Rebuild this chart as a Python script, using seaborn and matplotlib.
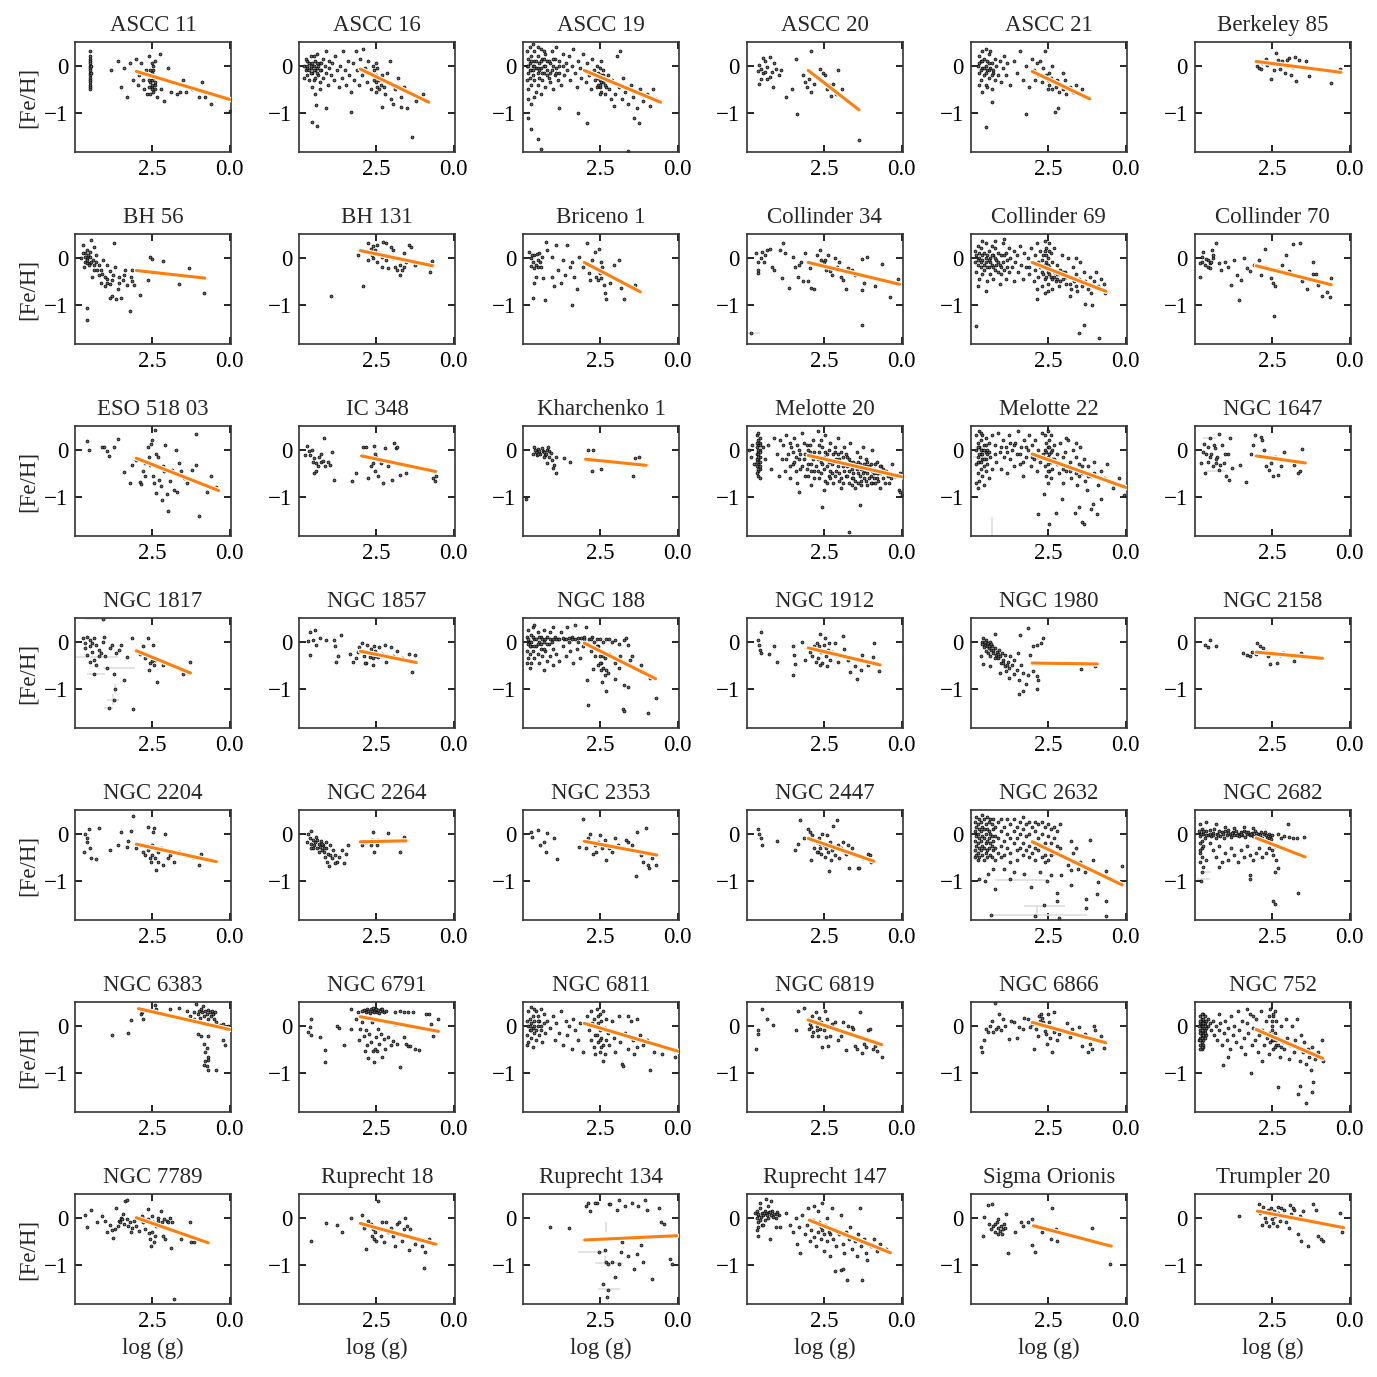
import matplotlib
matplotlib.use("Agg")
import matplotlib.pyplot as plt
import matplotlib.patheffects as pe
import seaborn as sns
import pandas as pd

# cluster names in panel order
clusters = ["ASCC 11", "ASCC 16", "ASCC 19", "ASCC 20", "ASCC 21", "Berkeley 85",
            "BH 56", "BH 131", "Briceno 1", "Collinder 34", "Collinder 69", "Collinder 70",
            "ESO 518 03", "IC 348", "Kharchenko 1", "Melotte 20", "Melotte 22", "NGC 1647",
            "NGC 1817", "NGC 1857", "NGC 188", "NGC 1912", "NGC 1980", "NGC 2158",
            "NGC 2204", "NGC 2264", "NGC 2353", "NGC 2447", "NGC 2632", "NGC 2682",
            "NGC 6383", "NGC 6791", "NGC 6811", "NGC 6819", "NGC 6866", "NGC 752",
            "NGC 7789", "Ruprecht 18", "Ruprecht 134", "Ruprecht 147", "Sigma Orionis", "Trumpler 20"]

# (log g, [Fe/H])
ascc_11 = [(4.5,0.3),(4.5,0.2),(4.5,0.15),(4.5,0.1),(4.5,0.05),(4.5,0.0),(4.5,-0.05),(4.5,-0.1),(4.5,-0.15),
           (4.5,-0.2),(4.5,-0.25),(4.5,-0.3),(4.5,-0.35),(4.5,-0.4),(4.5,-0.45),(4.5,-0.5),(4.45,0.0),(4.45,-0.15),
           (3.8,-0.1),(3.6,0.1),(3.5,-0.45),(3.4,-0.05),(3.3,-0.65),(3.2,0.05),(3.1,-0.3),(3.0,0.15),(2.95,-0.4),
           (2.9,-0.2),(2.85,0.05),(2.8,-0.3),(2.75,-0.5),(2.7,-0.1),(2.65,-0.6),(2.6,0.2),(2.55,-0.35),(2.5,-0.15),
           (2.5,-0.45),(2.45,-0.55),(2.45,-0.1),(2.4,0.1),(2.4,-0.4),(2.35,-0.65),(2.3,-0.25),(2.25,0.25),(2.2,-0.5),
           (2.1,-0.75),(2.0,-0.05),(1.9,-0.55),(1.8,-0.35),(1.7,-0.6),(1.6,-0.55),(1.5,-0.3),(1.4,-0.55),(1.2,-0.5),
           (1.0,-0.65),(0.9,-0.35),(0.8,-0.65),(0.6,-0.8),(0.0,-0.95),(2.55,-0.2),(2.5,-0.3),(2.45,-0.25),(2.5,-0.5),
           (2.55,-0.6),(2.4,-0.35),(2.6,-0.45),(2.45,0.0),(2.5,0.05),(2.55,-0.1),(2.5,-0.4),(2.6,-0.3),(2.4,-0.5)]
ascc_16 = [(4.8,0.0),(4.75,-0.1),(4.7,0.1),(4.7,-0.2),(4.65,0.05),(4.6,-0.05),(4.6,0.2),(4.55,-0.15),(4.5,0.0),
           (4.5,-0.3),(4.45,0.1),(4.45,-0.1),(4.4,0.25),(4.4,-0.05),(4.35,-0.2),(4.3,0.05),(4.3,-0.35),(4.25,-0.1),
           (4.2,0.15),(4.2,-0.25),(4.15,0.0),(4.1,-0.15),(4.1,0.3),(4.05,-0.4),(4.0,-0.05),(4.0,0.1),(4.65,-0.3),
           (4.55,-0.45),(4.75,0.15),(4.5,0.2),(4.35,0.0),(4.25,0.05),(4.6,0.0),(4.4,-0.15),(4.7,-0.05),(4.8,-0.25),
           (4.3,-0.5),(4.45,-0.6),(3.95,-0.2),(3.9,0.05),(3.85,-0.3),(3.8,0.2),(3.75,-0.1),(3.7,-0.45),(3.65,0.0),
           (3.6,-0.25),(3.55,0.3),(3.5,-0.1),(3.45,-0.4),(3.4,0.1),(3.35,-0.2),(3.3,-0.55),(3.25,0.05),(3.2,-0.3),
           (3.15,0.3),(3.1,-0.1),(3.05,-0.4),(3.0,0.15),(2.95,-0.2),(2.9,0.35),(2.85,-0.05),(2.8,-0.35),(2.75,0.1),
           (2.7,-0.15),(2.65,-0.5),(2.6,0.0),(2.55,-0.1),(2.5,-0.2),(2.5,-0.35),(2.45,-0.45),(2.45,-0.05),(2.4,-0.3),
           (2.4,-0.5),(2.5,0.05),(2.45,-0.25),(2.35,-0.4),(2.5,-0.55),(2.55,-0.3),(2.3,-0.2),(2.2,-0.6),(2.1,-0.35),
           (2.0,-0.7),(1.9,-0.5),(1.8,-0.25),(1.7,-0.65),(1.6,-0.45),(1.5,-0.9),(1.4,-0.55),(1.2,-0.75),(1.0,-0.6),
           (2.15,-0.15),(2.25,-0.45),(1.95,-0.8),(2.05,0.1),(4.56,-1.19),(4.4,-1.28),(4.43,-0.83),(4.1,-0.9),
           (3.3,-0.98),(1.33,-1.5),(2.3,-0.87),(1.7,-0.87),(4.7,0.0),(4.6,-0.15),(4.5,-0.1),(4.4,0.05),(4.3,-0.1),
           (4.65,-0.1),(4.55,0.05),(4.45,-0.25)]
ascc_19 = [(4.85,0.3),(4.85,0.0),(4.85,-0.3),(4.8,0.15),(4.8,-0.15),(4.8,-0.5),(4.75,0.4),(4.75,0.05),(4.75,-0.25),
           (4.7,0.2),(4.7,-0.1),(4.7,-0.4),(4.65,0.0),(4.65,-0.2),(4.6,0.3),(4.6,0.1),(4.6,-0.3),(4.55,-0.05),
           (4.55,-0.55),(4.5,0.2),(4.5,-0.15),(4.5,-0.4),(4.45,0.05),(4.45,-0.25),(4.4,0.35),(4.4,-0.05),(4.4,-0.6),
           (4.35,0.15),(4.35,-0.3),(4.3,0.0),(4.3,-0.15),(4.25,0.25),(4.25,-0.45),(4.2,-0.1),(4.2,0.1),(4.15,-0.25),
           (4.1,0.05),(4.1,-0.35),(4.05,0.3),(4.05,-0.1),(4.0,0.0),(4.0,-0.5),(3.95,0.15),(3.95,-0.2),(3.9,-0.05),
           (3.9,0.4),(3.85,-0.3),(3.8,0.1),(3.8,-0.15),(3.75,-0.4),(3.7,0.0),(3.7,0.25),(3.65,-0.2),(3.6,0.05),
           (4.8,-0.7),(4.7,-0.8),(4.65,0.45),(4.5,0.4),(4.6,-0.65),(4.3,0.3),(3.55,-0.1),(3.5,0.2),(3.45,-0.3),
           (3.4,0.0),(3.35,0.35),(3.3,-0.15),(3.25,-0.45),(3.2,0.1),(3.15,-0.05),(3.1,-0.25),(3.05,0.25),(3.0,-0.1),
           (2.95,-0.35),(2.9,0.05),(2.85,-0.2),(2.8,-0.5),(2.75,0.15),(2.7,-0.1),(2.65,-0.3),(2.6,0.0),(2.6,-0.45),
           (2.55,-0.15),(2.5,-0.3),(2.5,-0.05),(2.5,-0.45),(2.45,-0.2),(2.45,-0.55),(2.4,-0.35),(2.4,-0.1),
           (2.35,-0.25),(2.35,-0.6),(2.5,-0.6),(2.45,0.1),(2.55,-0.4),(2.3,-0.45),(2.25,-0.2),(2.2,-0.5),(2.15,-0.7),
           (2.1,-0.3),(2.0,-0.6),(1.95,0.2),(1.9,-0.45),(1.8,-0.7),(1.75,-0.25),(1.7,-0.55),(1.6,-0.8),(1.5,-0.4),
           (1.45,-0.65),(1.3,-0.9),(1.2,-0.5),(1.1,-0.75),(1.0,-0.6),(0.9,-0.85),(0.8,-0.5),(0.7,-0.7),(1.85,0.3),
           (2.05,-0.85),(1.4,-1.1),(1.25,-1.2),(4.7,-1.34),(4.5,-1.55),(4.4,-1.75),(3.2,-1.0),(2.9,-1.2),(1.6,-1.8),
           (4.8,-1.1),(3.8,-0.9),(4.8,0.0),(4.75,-0.1),(4.7,0.1),(4.65,-0.1),(4.6,0.0),(4.55,0.1),(4.5,-0.05),
           (4.45,-0.1),(4.4,0.1),(4.35,-0.15),(4.3,0.15),(4.25,0.0),(4.2,-0.2),(4.15,0.1),(4.1,-0.15),(4.0,0.15),
           (3.9,-0.15),(3.8,0.0),(2.5,-0.2),(2.45,-0.35),(2.4,-0.2),(2.55,-0.25),(2.35,-0.4),(2.5,-0.4)]
ascc_20 = [(4.59,0.01),(4.52,-0.06),(4.45,0.16),(4.38,0.09),(4.31,-0.02),(4.24,0.19),(4.17,-0.13),(4.1,0.05),
           (4.03,-0.06),(3.95,-0.2),(3.88,-0.09),(4.52,-0.27),(4.59,-0.38),(4.31,-0.27),(4.12,-0.45),(4.45,-0.16),
           (4.62,-0.11),(4.38,-0.13),(4.24,-0.24),(3.71,-0.66),(3.53,-0.49),(3.39,0.14),(3.35,-1.02),(2.9,0.3),
           (3.18,-0.2),(3.11,-0.34),(3.04,-0.45),(2.97,-0.27),(2.9,-0.56),(2.82,-0.38),(2.61,-0.06),(2.54,-0.16),
           (2.47,-0.2),(2.4,-0.49),(2.33,-0.41),(2.26,-0.63),(2.19,-0.38),(2.12,-0.59),(2.05,-0.09),(1.91,-0.49),
           (1.38,-1.56)]
ascc_21 = [(4.75,0.0),(4.7,0.2),(4.7,-0.15),(4.65,0.1),(4.65,-0.3),(4.6,-0.05),(4.6,0.3),(4.55,0.15),(4.55,-0.2),
           (4.5,0.0),(4.5,-0.4),(4.45,0.1),(4.45,-0.1),(4.4,0.25),(4.4,-0.25),(4.35,-0.05),(4.3,0.05),(4.3,-0.5),
           (4.25,-0.15),(4.2,0.15),(4.2,-0.3),(4.15,0.0),(4.1,-0.2),(4.05,0.1),(4.0,-0.35),(3.95,-0.05),(3.9,0.2),
           (4.6,-0.55),(4.7,-0.4),(4.5,0.35),(4.35,0.3),(4.45,-0.45),(4.25,-0.1),(4.55,-0.05),(4.4,0.05),
           (3.85,-0.2),(3.8,0.05),(3.7,-0.4),(3.6,0.1),(3.5,-0.15),(3.4,0.3),(3.3,-0.3),(3.2,0.0),(3.1,-0.45),
           (3.0,0.15),(2.95,-0.1),(2.9,-0.3),(2.85,0.05),(2.8,-0.2),(2.75,0.1),(2.7,-0.35),(2.65,-0.05),(2.6,0.3),
           (2.55,-0.2),(2.5,-0.3),(2.45,-0.4),(2.4,-0.25),(2.35,-0.5),(2.3,-0.35),(2.25,-0.45),(2.2,-0.3),
           (2.15,-0.55),(2.1,-0.4),(2.0,-0.5),(1.95,-0.3),(1.9,-0.6),(1.8,-0.45),(1.7,-0.55),(1.6,-0.4),(1.5,-0.6),
           (1.4,-0.5),(2.45,-0.15),(2.5,-0.5),(2.35,0.0),(2.0,-0.15),(4.5,-1.29),(4.3,-0.77),(3.21,-1.02),
           (2.26,-0.97),(2.16,-0.9),(4.65,-0.1),(4.6,0.1),(4.5,-0.15),(4.4,-0.1),(4.3,-0.2),(4.7,0.05)]
berkeley_85 = [(2.98,0.0),(2.91,-0.04),(2.8,0.05),(2.7,0.14),(2.64,0.01),(2.53,-0.27),(2.47,0.06),(2.36,0.26),
               (2.29,0.12),(2.23,-0.06),(2.16,0.09),(2.06,-0.16),(2.02,0.12),(1.95,0.17),(1.88,-0.19),(1.82,-0.02),
               (1.75,0.19),(1.71,-0.33),(1.61,0.12),(1.4,0.1),(1.3,-0.22),(0.61,-0.36),(0.31,-0.06),(2.84,-0.06),
               (2.43,-0.09)]
bh_56 = [(4.71,0.26),(4.64,0.09),(4.57,-0.01),(4.5,-0.12),(4.6,0.16),(4.46,0.38),(4.36,0.23),(4.29,0.06),
         (4.21,-0.15),(4.14,-0.26),(4.07,-0.05),(4.0,-0.4),(3.93,-0.53),(3.86,-0.29),(3.79,-0.47),(3.71,0.31),
         (3.69,-0.19),(3.6,-0.67),(3.57,-0.4),(3.5,-0.85),(3.43,-0.47),(3.36,-0.26),(3.29,-0.57),(3.21,-1.13),
         (3.14,-0.26),(3.07,-0.57),(3.14,-0.5),(2.89,-0.78),(2.64,-0.47),(2.57,0.02),(2.5,-0.03),(2.14,-0.06),
         (1.64,-0.55),(1.31,-0.22),(0.83,-0.74),(4.57,-1.06),(4.57,-1.32),(3.86,-0.85),(3.64,-0.88),(3.79,-0.81),
         (4.21,-0.36),(4.36,-0.26),(4.64,-0.08),(4.5,0.02),(4.69,-0.19),(4.43,-0.4),(4.5,0.13),(4.79,-0.01),
         (4.14,-0.53),(4.0,-0.6),(3.93,-0.15),(4.29,-0.08),(4.57,-0.12),(4.4,-0.05),(4.64,0.02),(4.53,-0.15),
         (4.71,0.09),(3.76,-0.36),(3.57,-0.53),(3.4,-0.36),(3.17,-0.4),(4.6,-0.05),(4.55,0.05),(4.45,-0.1),
         (4.35,-0.15),(4.25,-0.25),(4.1,-0.35),(3.95,-0.45),(3.85,-0.55)]
bh_131 = [(3.06,0.06),(2.91,-0.59),(3.94,-0.81),(2.75,0.3),(2.67,0.19),(2.6,0.24),(2.53,0.16),(2.46,0.26),
          (2.39,0.09),(2.31,0.02),(2.28,0.33),(2.17,-0.05),(2.1,-0.22),(2.02,0.23),(1.95,-0.01),(1.88,-0.19),
          (1.81,-0.26),(1.73,-0.15),(1.66,-0.26),(1.59,0.09),(1.52,-0.08),(1.44,0.26),(1.37,0.23),(1.73,-0.36),
          (2.31,-0.19),(2.46,-0.08),(2.6,-0.01),(0.75,-0.31),(0.69,-0.06),(2.75,-0.05),(1.95,0.16),(2.17,0.3),
          (2.63,0.06),(1.59,-0.19),(1.23,-0.15)]
briceno_1 = [(4.77,0.12),(4.7,0.0),(4.65,-0.1),(4.6,0.05),(4.55,-0.15),(4.5,-0.05),(4.45,0.1),(4.4,-0.2),
             (4.72,-0.18),(4.62,-0.22),(4.52,0.08),(4.42,-0.1),(4.36,0.02),(4.68,0.06),
             (4.65,-0.85),(4.6,-0.53),(4.26,-0.9),(4.22,0.33),(4.19,0.16),(4.05,0.02),(3.9,0.26),(3.83,-0.26),
             (3.69,-0.05),(3.61,-0.36),(3.54,0.26),(3.47,-0.19),(3.4,-0.08),(3.32,-0.4),(3.41,-1.0),(3.25,-0.67),
             (3.18,0.02),(3.03,-0.19),(2.92,0.3),(2.86,-0.33),(2.75,-0.05),(2.67,0.12),(2.63,-0.4),(2.57,-0.47),
             (2.53,0.19),(2.49,-0.33),(2.46,-0.43),(2.43,-0.19),(2.38,-0.57),(2.34,-0.74),(2.31,-0.88),(2.17,-0.53),
             (2.05,-0.15),(1.88,-0.05),(1.81,-0.64),(1.71,-0.88),(1.37,-0.57),(2.46,-0.08),(2.57,-0.26),
             (2.82,-0.47),(4.48,-0.19),(4.55,-0.4),(4.05,-0.4),(3.97,-0.6),(3.76,-0.53),(4.33,-0.43)]
collinder_34 = [(4.67,0.09),(4.6,-0.08),(4.53,-0.01),(4.49,0.13),(4.43,-0.08),(4.38,0.06),(4.31,0.16),(4.24,0.19),
                (4.17,-0.19),(4.63,-0.33),(4.6,-0.26),(4.1,-0.26),(3.91,0.16),(3.85,-0.43),(3.81,0.31),(3.74,0.09),
                (3.62,-0.64),(3.48,0.02),(3.43,-0.19),(3.34,-0.4),(3.24,-0.08),(3.18,-0.5),(3.09,0.09),(3.02,-0.5),
                (2.95,-0.22),(2.9,-0.64),(2.8,-0.67),(2.73,0.06),(2.62,0.16),(2.59,-0.05),(2.51,-0.08),(2.47,-0.05),
                (2.37,0.06),(2.3,-0.29),(2.23,-0.36),(2.15,-0.01),(2.08,-0.19),(2.01,-0.08),(1.94,-0.4),(1.87,-0.47),
                (1.8,-0.66),(1.72,-0.22),(1.61,-0.26),(1.51,-0.36),(1.29,-0.03),(1.26,-0.69),(1.22,-0.53),
                (1.29,-1.42),(1.12,0.01),(0.86,-0.6),(0.64,-0.14),(0.36,-0.83),(0.11,-0.45),(2.44,-0.26),
                (2.87,-0.12),(3.31,-0.15),(4.85,-1.59)]
collinder_69 = [(4.85,-0.1),(4.85,0.15),(4.8,-0.3),(4.8,0.05),(4.75,-0.15),(4.75,0.25),(4.7,-0.45),(4.7,0.0),
                (4.65,-0.2),(4.65,0.2),(4.6,-0.05),(4.6,-0.35),(4.55,0.1),(4.55,-0.25),(4.5,0.3),(4.5,-0.1),
                (4.45,-0.5),(4.45,0.05),(4.4,-0.2),(4.4,0.15),(4.35,-0.35),(4.35,0.0),(4.3,0.25),(4.3,-0.15),
                (4.25,-0.45),(4.25,0.05),(4.2,-0.25),(4.2,0.2),(4.15,-0.05),(4.1,-0.3),(4.1,0.1),(4.05,-0.55),
                (4.05,-0.15),(4.0,0.05),(4.0,-0.35),(3.95,0.3),(3.95,-0.1),(3.9,-0.25),(3.85,0.1),(3.85,-0.45),
                (3.8,-0.05),(3.75,0.2),(3.75,-0.3),(3.7,0.0),(3.65,-0.2),(3.6,0.15),(3.6,-0.5),(3.55,-0.1),
                (4.75,-0.6),(4.6,0.35),(4.2,0.35),(4.5,-0.7),(3.9,0.4),(3.5,0.05),(3.45,-0.3),(3.4,0.25),
                (3.35,-0.15),(3.3,-0.45),(3.25,0.1),(3.2,-0.2),(3.15,0.0),(3.1,-0.35),(3.05,0.2),(3.0,-0.1),
                (2.95,-0.5),(2.9,0.05),(2.9,-0.25),(2.85,0.3),(2.8,-0.4),(2.8,-0.1),(2.75,0.15),(2.7,-0.3),
                (2.7,-0.6),(2.65,0.05),(2.65,-0.2),(2.6,0.35),(2.6,-0.45),(2.55,-0.1),(2.55,0.2),(2.5,-0.3),
                (2.5,0.0),(2.5,-0.55),(2.45,0.3),(2.45,-0.2),(2.4,-0.4),(2.4,0.1),(2.35,-0.1),(2.35,-0.65),
                (2.3,-0.3),(2.3,0.2),(2.25,-0.5),(2.2,-0.15),(2.2,-0.35),(2.15,-0.6),(2.1,-0.25),(2.05,0.05),
                (2.0,-0.45),(2.6,-0.75),(2.5,-0.7),(2.85,-0.65),(1.95,-0.3),(1.9,-0.55),(1.85,0.0),(1.8,-0.4),
                (1.75,-0.65),(1.7,-0.2),(1.65,-0.5),(1.6,-0.35),(1.55,-0.7),(1.5,-0.45),(1.45,-0.1),(1.4,-0.6),
                (1.35,-0.3),(1.3,-0.5),(1.2,-0.65),(1.15,-0.4),(1.1,-0.75),(1.0,-0.5),(0.95,-0.3),(0.9,-0.6),
                (0.8,-0.45),(0.7,-0.55),(0.65,-0.75),(1.6,0.0),(1.8,-0.8),(4.8,-1.45),(1.31,-0.97),(1.07,-1.0),
                (1.34,-1.42),(1.49,-1.59),(0.86,-1.7),(2.86,-0.88),
                (4.75,-0.05),(4.7,0.1),(4.65,-0.1),(4.6,0.05),(4.55,-0.15),(4.5,0.0),(4.45,-0.2),(4.4,-0.05),
                (4.35,-0.1),(4.3,0.05),(4.25,-0.2),(4.2,0.0),(4.15,-0.15),(4.1,-0.1),(4.0,-0.2),(3.9,0.05),
                (3.8,-0.2),(2.75,-0.2),(2.7,-0.05),(2.65,-0.35),(2.6,-0.15),(2.55,-0.4),(2.5,-0.15),(2.45,-0.35),
                (2.4,-0.25),(2.35,-0.45),(2.3,-0.4),(2.25,-0.3),(2.2,-0.45),(2.15,-0.35),(2.1,-0.5),(2.0,-0.3),
                (1.9,-0.4),(1.8,-0.55),(1.7,-0.45),(1.6,-0.6),(2.55,0.05),(2.45,0.15),(2.6,0.15),(3.1,-0.2)]
collinder_70 = [(4.8,-0.4),(4.7,0.13),(4.55,-0.19),(4.41,0.16),(4.3,0.3),(4.2,-0.12),(4.12,-0.26),(4.01,-0.08),
                (3.91,-0.19),(3.81,-0.57),(3.7,-0.05),(3.63,-0.36),(3.56,-0.9),(3.48,-0.47),(3.38,-0.01),(3.3,-0.22),
                (3.2,-0.29),(3.06,-0.15),(2.92,-0.05),(2.84,-0.36),(2.73,0.19),(2.67,-0.19),(2.53,-0.43),
                (2.46,-0.53),(2.39,-0.6),(2.43,-1.22),(2.31,-0.26),(2.17,-0.15),(2.03,0.06),(1.95,-0.29),(1.81,0.28),
                (1.74,-0.36),(1.6,0.3),(1.52,-0.5),(1.38,-0.67),(1.19,-0.08),(1.16,-0.34),(1.09,-0.34),(1.02,-0.57),
                (0.9,-0.81),(0.73,-0.73),(0.62,-0.83),(0.59,-0.43),(4.55,-0.05),(4.73,-0.08),(4.48,-0.12),
                (4.38,-0.01),(4.8,-0.12),(4.75,0.02),(4.65,-0.15),(4.6,-0.02),(4.5,-0.22),(4.45,-0.08),(4.4,0.05)]
eso_518_03 = [(4.57,0.19),(4.53,-0.01),(4.11,0.06),(4.03,0.05),(3.93,-0.02),(3.89,-0.13),(3.71,0.05),(3.6,0.22),
              (3.4,-0.48),(3.21,-0.7),(3.14,-0.32),(3.0,-0.22),(2.89,-0.69),(2.79,-0.44),(2.71,-0.28),(2.64,0.05),
              (2.6,-0.15),(2.57,-0.32),(2.54,0.13),(2.5,0.2),(2.46,-0.56),(2.4,0.42),(2.36,-0.08),(2.31,-0.35),
              (2.29,-0.15),(2.26,-0.63),(2.21,-0.77),(2.17,-1.05),(2.11,-0.44),(2.07,0.1),(2.03,-0.94),(2.0,-1.29),
              (1.93,-0.67),(1.86,-0.42),(1.79,-0.84),(1.74,-0.01),(1.71,-0.9),(1.64,-0.28),(1.57,-0.44),(1.46,-0.6),
              (1.36,-0.7),(1.21,-0.42),(1.1,0.34),(1.07,-0.32),(0.99,-1.4),(0.74,-0.9),(0.6,-0.55),(0.43,-0.78),
              (2.71,-0.56),(2.43,-0.7),(2.14,-0.35),(2.36,-0.91),(2.86,-0.73)]
ic_348 = [(4.7,0.08),(4.63,-0.11),(4.56,-0.01),(4.48,-0.18),(4.41,-0.28),(4.34,-0.15),(4.27,-0.26),(4.2,-0.24),
          (4.12,-0.35),(4.16,0.24),(4.27,-0.08),(4.05,-0.26),(3.98,-0.32),(3.9,-0.04),(4.48,-0.49),(4.41,-0.45),
          (3.84,-0.63),(4.77,-0.11),(4.66,-0.03),(4.53,-0.26),(4.37,-0.35),(3.27,-0.67),(3.14,-0.49),(2.91,0.06),
          (2.82,0.05),(2.75,-0.6),(2.67,-0.35),(2.6,-0.28),(2.56,0.08),(2.53,-0.45),(2.49,-0.15),(2.43,-0.56),
          (2.34,-0.28),(2.28,-0.71),(2.2,0.03),(2.1,-0.35),(1.98,-0.63),(1.91,0.15),(1.85,0.03),(1.81,0.06),
          (1.73,-0.53),(1.52,-0.49),(0.65,-0.6),(0.6,-0.67),(0.58,-0.55),(2.53,-0.08)]
kharchenko_1 = [(4.62,0.05),(4.55,-0.04),(4.48,0.01),(4.41,-0.08),(4.33,-0.02),(4.26,-0.11),(4.19,0.0),
                (4.12,-0.15),(4.65,-0.08),(4.51,-0.11),(4.36,0.03),(4.22,-0.08),(4.07,-0.06),(4.59,-0.01),
                (4.3,-0.15),(4.16,0.06),(4.05,-0.22),(3.97,-0.32),(4.01,-0.39),(3.92,-0.49),(4.19,-0.28),
                (3.9,-0.15),(3.64,-0.18),(3.47,-0.26),(4.86,-1.03),(2.89,0.0),(2.72,0.0),(2.75,-0.45),(2.46,-0.4),
                (1.44,-0.56),(1.37,-0.18),(1.23,-0.16),(4.45,-0.03),(4.28,-0.05),(4.14,-0.02),(4.5,-0.08)]
melotte_20 = [(4.65,0.3),(4.6,0.2),(4.6,0.1),(4.55,0.0),(4.6,-0.05),(4.65,-0.1),(4.55,-0.15),(4.6,-0.2),
              (4.55,-0.25),(4.6,-0.3),(4.65,-0.35),(4.55,-0.4),(4.6,-0.45),(4.6,-0.55),(4.55,0.15),(4.65,0.05),
              (4.6,0.35),(4.55,-0.6),(4.65,-0.2),(4.6,-0.1),(4.55,0.25),(4.65,-0.5),(4.9,0.0),(4.85,-0.15),
              (4.8,0.1),(4.75,-0.3),(4.45,0.05),(4.4,-0.2),(4.3,0.1),(4.2,-0.4),(4.1,0.25),(4.0,-0.1),(3.95,-0.55),
              (3.9,0.2),(3.85,-0.2),(3.8,0.1),(3.75,-0.45),(3.7,0.3),(3.65,-0.1),(3.6,-0.6),(3.55,0.05),(3.5,-0.3),
              (3.45,0.25),(3.4,-0.15),(3.35,-0.7),(3.3,0.0),(3.25,-0.4),(3.2,0.35),(3.15,-0.2),(3.1,-0.55),
              (3.05,0.1),(3.0,-0.3),(2.95,-0.05),(2.9,-0.75),(2.85,0.2),(2.8,-0.45),(2.75,-0.15),(2.7,0.4),
              (2.65,-0.6),(2.6,-0.25),(2.55,0.05),(2.5,-0.85),(2.5,-0.4),(2.45,0.3),(2.4,-0.1),(2.35,-0.55),
              (2.3,0.15),(2.25,-0.3),(2.2,-0.7),(2.15,-0.05),(2.1,-0.45),(2.05,0.25),(2.0,-0.2),(1.95,-0.8),
              (1.9,-0.35),(1.85,0.05),(1.8,-0.55),(1.75,-0.15),(1.7,-0.7),(1.65,0.15),(1.6,-0.4),(1.55,-0.25),
              (1.5,-0.8),(1.45,-0.05),(1.4,-0.5),(1.35,-0.3),(1.3,-0.65),(1.25,0.05),(1.2,-0.45),(1.15,-0.2),
              (1.1,-0.75),(1.05,-0.35),(1.0,-0.55),(0.95,0.0),(0.9,-0.4),(0.85,-0.7),(0.8,-0.25),(0.75,-0.5),
              (0.7,-0.8),(0.65,-0.35),(0.6,-0.6),(0.5,-0.45),(0.4,-0.7),(0.3,-0.3),(0.2,-0.55),(0.1,-0.85),
              (0.05,-0.5),(0.0,-0.95),(3.3,-0.2),(3.1,-0.1),(2.9,-0.3),(2.7,-0.2),(2.6,-0.5),(2.4,-0.35),
              (2.3,-0.45),(2.2,-0.25),(2.0,-0.5),(1.9,-0.15),(1.8,-0.3),(1.7,-0.45),(1.6,-0.6),(1.5,-0.3),
              (1.4,-0.7),(1.3,-0.4),(1.2,-0.6),(1.1,-0.5),(1.0,-0.3),(0.9,-0.6),(0.8,-0.5),(0.7,-0.35),
              (2.8,-0.05),(3.0,-0.55),(2.5,-0.15),(2.45,-0.65),(2.15,-0.55),(1.95,-0.6),(1.75,-0.55),(1.55,-0.5),
              (1.35,-0.55),(1.15,-0.65),(0.95,-0.7),(2.65,0.1),(2.35,0.0),(2.05,-0.1),(3.5,-0.05),(3.6,0.15),
              (3.31,-0.9),(2.56,-1.2),(1.34,-1.17),(1.7,-1.74),(0.05,-0.9),
              (3.45,-0.25),(3.35,0.1),(3.25,-0.1),(3.15,0.15),(3.05,-0.4),(2.95,0.1),(2.85,-0.2),(2.75,-0.35),
              (2.65,-0.05),(2.55,-0.3),(2.45,-0.05),(2.35,-0.25),(2.25,-0.5),(2.15,0.05),(2.05,-0.35),(1.95,-0.05),
              (1.85,-0.45),(1.75,-0.35),(1.65,-0.25),(1.55,-0.6),(1.45,-0.4),(1.35,-0.15),(1.25,-0.5),(1.15,-0.35),
              (1.05,-0.6),(0.95,-0.45),(0.85,-0.3),(0.75,-0.65),(0.65,-0.5),(0.55,-0.7),(0.45,-0.55),(0.35,-0.6),
              (3.4,-0.45),(3.2,-0.35),(3.0,0.0),(2.8,-0.6),(2.6,0.2),(2.4,-0.7),(2.2,-0.1),(2.0,-0.65),(1.8,-0.1),
              (1.6,-0.75),(1.4,-0.25),(1.2,-0.3),(1.0,-0.7),(0.8,-0.6),(2.9,-0.45),(2.7,-0.45),(2.3,-0.6),
              (2.1,-0.2),(1.9,-0.7),(1.7,-0.2),(1.5,-0.65),(1.3,-0.75),(1.1,-0.25),(0.9,-0.5),(0.7,-0.45),
              (0.6,-0.4),(3.6,-0.35),(3.7,-0.2),(4.6,0.0),(4.55,-0.05),(4.6,-0.15),(4.55,-0.35),(4.65,-0.25),
              (4.6,-0.4),(4.55,0.1),(4.65,0.15)]
melotte_22 = [(4.8,0.3),(4.8,0.0),(4.8,-0.3),(4.75,0.15),(4.75,-0.15),(4.75,-0.5),(4.7,0.4),(4.7,0.05),
              (4.7,-0.25),(4.7,-0.65),(4.65,0.2),(4.65,-0.1),(4.65,-0.4),(4.6,0.3),(4.6,0.0),(4.6,-0.2),
              (4.6,-0.55),(4.55,0.1),(4.55,-0.35),(4.55,-0.75),(4.5,0.25),(4.5,-0.05),(4.5,-0.45),(4.45,0.0),
              (4.45,-0.3),(4.4,0.15),(4.4,-0.6),(4.35,-0.15),(4.3,0.3),(4.3,-0.4),(4.8,-0.7),(4.65,0.35),
              (4.75,-0.8),(4.2,0.1),(4.15,-0.25),(4.1,0.35),(4.05,-0.05),(4.0,-0.4),(3.95,0.2),(3.9,-0.15),
              (3.85,0.05),(3.8,-0.5),(3.75,0.3),(3.7,-0.2),(3.65,0.0),(3.6,-0.35),(3.55,0.15),(3.5,-0.1),
              (3.45,0.4),(3.4,-0.3),(3.35,0.05),(3.3,-0.55),(3.25,0.2),(3.2,-0.15),(3.15,0.0),(3.1,0.3),
              (3.05,-0.35),(3.0,0.1),(2.95,-0.2),(2.9,0.2),(2.85,-0.45),(2.8,0.0),(2.75,-0.25),(2.7,0.35),
              (2.65,-0.1),(2.6,0.3),(2.6,0.0),(2.6,-0.35),(2.55,0.15),(2.55,-0.2),(2.55,-0.55),(2.5,0.4),
              (2.5,0.05),(2.5,-0.3),(2.5,-0.7),(2.45,0.2),(2.45,-0.1),(2.45,-0.45),(2.4,0.3),(2.4,-0.25),
              (2.4,-0.6),(2.35,0.0),(2.35,-0.4),(2.3,0.1),(2.3,-0.2),(2.2,-0.1),(2.15,-0.5),(2.1,0.15),
              (2.05,-0.3),(2.0,-0.7),(1.95,-0.05),(1.9,-0.45),(1.85,0.2),(1.8,-0.25),(1.75,-0.6),(1.7,0.0),
              (1.65,-0.4),(1.6,-0.15),(1.55,-0.75),(1.5,-0.3),(1.45,0.05),(1.4,-0.5),(1.35,-0.2),(1.3,-0.65),
              (1.2,-0.35),(1.1,-0.55),(1.0,-0.25),(0.9,-0.75),(0.8,-0.45),(0.7,-0.6),(0.6,-0.3),(0.4,-0.8),
              (0.2,-0.6),(0.05,-0.95),(1.9,0.25),(1.6,0.15),(1.25,-0.85),(2.82,-1.36),(2.46,-1.57),(2.25,-1.33),
              (1.64,-1.33),(1.4,-1.53),(1.33,-1.57),(1.04,-1.15),(0.79,-1.03),(0.93,-1.36),(2.04,-1.04),
              (2.61,-0.94),(1.1,-1.25),(1.5,-1.2),
              (4.75,0.05),(4.7,-0.1),(4.65,0.0),(4.6,-0.1),(4.55,0.0),(4.5,-0.2),(4.45,-0.1),(4.75,-0.25),
              (4.65,-0.25),(4.55,-0.2),(4.5,0.1),(4.4,-0.05),(4.2,-0.1),(4.0,0.05),(3.8,-0.05),(3.6,0.1),
              (3.4,-0.1),(3.2,0.05),(3.0,-0.15),(2.8,-0.15),(2.55,-0.05),(2.5,-0.15),(2.45,0.05),(2.4,-0.05),
              (2.5,-0.45),(2.35,-0.2),(2.2,-0.3),(2.0,-0.4),(1.8,-0.45),(1.6,-0.5),(1.4,-0.35),(1.2,-0.55),
              (1.0,-0.5),(0.8,-0.6),(2.0,-0.15),(1.5,-0.55),(3.3,-0.25),(3.7,0.15)]
ngc_1647 = [(3.53,-0.32),(3.32,-0.69),(3.18,-0.08),(3.1,0.1),(3.03,0.3),(2.86,0.27),(2.82,0.2),(2.74,-0.01),
            (2.67,-0.35),(2.6,-0.42),(2.53,-0.28),(2.46,-0.56),(2.39,-0.15),(2.31,-0.53),(2.2,-0.35),(2.1,-0.04),
            (1.95,-0.22),(1.77,-0.32),(1.67,-0.5),(1.52,0.01),(1.59,-0.44),(4.68,0.13),(4.61,-0.08),(4.54,-0.25),
            (4.47,0.24),(4.4,-0.35),(4.32,0.03),(4.25,-0.15),(4.18,-0.42),(4.11,0.1),(4.04,-0.28),(3.97,-0.56),
            (3.9,-0.08),(3.83,0.24),(4.64,-0.49),(4.47,-0.15),(4.29,-0.28),(4.01,-0.08),(3.78,-0.39),(4.76,-0.28),
            (4.36,0.1),(4.15,-0.32),(3.87,-0.63),(4.21,0.34),(4.7,-0.05),(4.55,0.05),(4.45,-0.1),(4.3,-0.2)]
ngc_1817 = [(4.07,0.47),(4.71,0.07),(4.57,0.1),(4.5,0.03),(4.43,-0.03),(4.36,0.07),(4.29,-0.07),(4.21,-0.17),
            (4.14,-0.24),(4.07,0.0),(4.03,0.1),(4.0,-0.31),(4.64,-0.14),(4.57,-0.28),(4.5,-0.42),(4.43,-0.21),
            (4.36,-0.38),(4.29,-0.49),(4.36,-0.69),(3.93,-0.56),(3.86,-0.14),(3.79,-0.07),(3.71,-0.69),
            (3.64,-0.24),(3.57,-0.17),(3.5,-0.06),(3.89,-1.4),(3.71,-1.22),(3.69,-1.0),(3.39,-0.81),(3.31,-0.33),
            (3.14,0.08),(3.1,-1.42),(3.0,-0.17),(2.89,-0.26),(2.79,-0.1),(2.71,-0.35),(2.64,0.07),(2.6,-0.59),
            (2.57,-0.44),(2.5,-0.4),(2.46,-0.07),(2.43,-0.49),(2.4,-0.38),(2.33,-0.85),(2.14,-0.5),(1.5,-0.68),
            (1.29,-0.43),(4.5,-0.1),(4.21,-0.31),(4.64,-0.03)]
ngc_1857 = [(4.63,-0.28),(4.67,0.01),(4.63,0.21),(4.53,0.03),(4.46,0.24),(4.43,-0.07),(4.31,0.07),(4.1,0.03),
            (3.86,0.03),(3.81,-0.1),(3.77,-0.42),(3.71,-0.31),(3.63,0.15),(3.34,-0.26),(3.24,-0.42),(3.14,-0.35),
            (3.06,-0.22),(3.03,-0.12),(2.96,-0.03),(2.89,-0.3),(2.81,-0.44),(2.77,-0.07),(2.74,-0.22),(2.7,-0.33),
            (2.67,-0.15),(2.63,-0.26),(2.6,-0.35),(2.56,-0.1),(2.53,-0.19),(2.49,-0.3),(2.43,-0.33),(2.39,-0.12),
            (2.31,-0.26),(2.2,-0.07),(2.17,-0.42),(2.03,-0.12),(1.96,-0.3),(1.81,-0.19),(1.67,-0.35),(1.43,-0.26),
            (1.34,-0.63),(1.24,-0.28),(2.6,-0.49),(2.86,-0.44)]
ngc_188 = [(4.85,0.1),(4.85,-0.2),(4.85,-0.45),(4.8,0.25),(4.8,-0.05),(4.8,-0.35),(4.75,0.0),(4.75,-0.25),
           (4.7,0.15),(4.7,-0.1),(4.7,-0.45),(4.65,0.3),(4.65,-0.2),(4.6,0.05),(4.6,-0.35),(4.55,-0.1),(4.5,0.2),
           (4.5,-0.25),(4.45,0.0),(4.45,-0.45),(4.4,0.1),(4.4,-0.15),(4.35,-0.3),(4.3,0.25),(4.3,0.0),(4.25,-0.2),
           (4.2,0.1),(4.2,-0.4),(4.15,-0.05),(4.1,0.2),(4.1,-0.3),(4.05,0.0),(4.0,-0.15),(4.0,-0.5),(3.95,0.1),
           (3.9,-0.25),(3.85,0.05),(3.8,-0.4),(3.75,0.2),(3.7,-0.1),(3.65,0.05),(3.6,-0.3),(3.55,0.3),(3.5,0.0),
           (3.45,-0.2),(3.4,0.1),(3.35,-0.45),(3.3,0.05),(3.25,-0.15),(3.2,0.0),(3.15,-0.35),(3.1,0.08),
           (3.05,-0.1),(3.0,0.05),(2.95,0.3),(2.9,-0.05),(2.85,0.05),(2.8,-0.2),(2.75,0.1),(2.7,0.0),(2.65,-0.3),
           (2.6,0.05),(4.6,0.35),(4.0,0.3),(3.3,0.35),(4.75,-0.55),(4.3,-0.6),(2.55,-0.1),(2.5,-0.3),(2.5,0.05),
           (2.45,-0.45),(2.45,-0.2),(2.4,-0.55),(2.4,0.0),(2.35,-0.35),(2.3,-0.6),(2.3,0.05),(2.55,-0.5),
           (2.35,-0.7),(2.2,0.05),(2.1,0.0),(2.0,0.03),(1.9,-0.05),(2.2,-0.25),(2.0,-0.45),(1.85,-0.3),
           (1.74,0.03),(1.67,0.07),(1.6,-0.07),(1.53,-0.38),(1.46,-0.31),(1.74,-0.92),(1.6,-0.95),(1.77,-1.42),
           (1.74,-1.47),(0.96,-1.51),(0.71,-1.18),(2.31,-1.04),(2.43,-0.85),(2.89,-1.33),(2.91,-0.8),(2.71,-0.58),
           (2.24,-0.65),(2.03,-0.78),(1.89,-0.56),(1.17,-0.49),(1.03,-0.65),(0.89,-0.76),
           (4.8,0.05),(4.75,-0.1),(4.7,0.0),(4.65,0.1),(4.6,-0.1),(4.55,0.05),(4.5,-0.05),(4.45,0.1),(4.4,-0.05),
           (4.35,0.05),(4.3,-0.15),(4.25,0.05),(4.2,-0.05),(4.1,0.05),(4.0,0.05),(3.9,0.05),(3.8,0.05),(3.7,0.08),
           (3.6,0.05),(3.5,0.08),(3.4,0.05),(3.2,0.08),(3.0,0.1),(2.8,0.05),(2.6,-0.1),(2.5,-0.45),(2.45,-0.6),
           (2.4,-0.3)]
ngc_1912 = [(4.61,0.03),(4.58,-0.07),(4.56,-0.17),(4.53,-0.24),(4.52,0.21),(4.25,-0.26),(4.1,-0.1),(4.0,-0.43),
            (3.48,-0.1),(3.45,-0.28),(3.42,-0.47),(3.48,-0.71),(3.19,0.0),(3.09,-0.38),(2.95,-0.21),(2.87,-0.31),
            (2.8,-0.1),(2.73,-0.03),(2.7,-0.35),(2.66,-0.1),(2.62,0.17),(2.59,-0.21),(2.56,-0.45),(2.51,-0.07),
            (2.47,0.07),(2.44,-0.31),(2.41,-0.52),(2.37,-0.17),(2.33,-0.03),(2.3,-0.38),(2.23,-0.21),(2.15,-0.03),
            (2.08,-0.28),(2.04,-0.42),(1.9,0.13),(1.84,-0.15),(1.72,-0.38),(1.65,-0.64),(1.51,-0.52),(1.44,-0.78),
            (1.32,-0.59),(1.26,-0.28),(1.08,-0.49),(0.93,-0.33),(0.89,-0.03),(0.72,-0.62),(2.76,-0.42),
            (2.62,-0.49)]
ngc_1980 = [(4.6,0.0),(4.57,0.07),(4.53,-0.06),(4.5,0.03),(4.46,-0.1),(4.43,-0.03),(4.39,-0.14),(4.36,0.0),
            (4.31,-0.17),(4.29,-0.1),(4.26,-0.24),(4.21,-0.14),(4.17,-0.28),(4.14,-0.21),(4.11,-0.35),(4.07,-0.17),
            (4.03,-0.31),(4.0,-0.45),(3.96,-0.24),(3.93,-0.38),(3.89,-0.52),(3.86,-0.28),(3.83,-0.62),(3.79,-0.42),
            (3.74,-0.56),(3.71,-0.31),(3.64,-0.49),(3.6,-0.69),(3.57,-0.38),(3.5,-0.59),(3.46,-0.24),(3.43,-0.8),
            (3.36,-0.49),(3.29,-0.66),(3.21,-0.9),(3.14,-0.71),(3.07,-0.28),(3.0,-0.45),(2.97,-0.62),(2.86,-0.73),
            (2.83,-0.8),(2.86,-0.99),(3.43,-1.11),(3.29,-1.04),(4.21,0.17),(4.64,-0.31),(4.57,-0.47),(4.43,-0.24),
            (3.4,0.15),(3.14,0.29),(2.96,-0.08),(2.86,-0.06),(2.71,-0.03),(2.64,0.08),(1.43,-0.57),(0.97,-0.52),
            (4.36,-0.52),(4.03,-0.66),(3.74,-0.76),(4.55,-0.12),(4.48,-0.2),(4.35,-0.3),(4.2,-0.35),(4.62,-0.05),
            (4.52,0.0),(4.4,-0.08),(4.32,-0.05),(4.25,-0.18),(4.1,-0.25),(3.95,-0.45),(3.8,-0.5)]
ngc_2158 = [(4.63,-0.07),(4.56,-0.12),(4.49,0.03),(4.3,-0.1),(3.41,-0.24),(3.3,-0.28),(3.2,-0.31),(3.13,-0.21),
            (3.01,-0.26),(2.96,-0.03),(2.87,-0.08),(2.77,-0.14),(2.7,-0.21),(2.63,-0.31),(2.56,-0.47),(2.34,-0.45),
            (2.24,-0.29),(2.13,-0.24),(1.77,-0.4),(1.56,-0.24)]
ngc_2204 = [(4.69,-0.38),(4.64,0.0),(4.6,-0.1),(4.57,-0.17),(4.53,0.1),(4.5,-0.31),(4.46,-0.51),(4.29,-0.53),
            (4.21,0.12),(3.86,-0.35),(3.6,-0.24),(3.5,0.03),(3.29,-0.28),(3.26,-0.16),(3.17,0.05),(3.11,0.37),
            (3.0,-0.31),(2.89,-0.24),(2.79,-0.38),(2.71,-0.45),(2.64,0.14),(2.57,-0.52),(2.53,-0.59),(2.5,-0.24),
            (2.46,0.03),(2.43,0.12),(2.4,-0.52),(2.36,-0.76),(2.31,-0.38),(2.29,-0.59),(2.21,-0.31),(2.14,-0.66),
            (2.07,0.0),(2.0,-0.52),(1.93,-0.45),(1.79,-0.59),(1.64,-0.38),(1.43,-0.45),(1.17,-0.49),(1.0,-0.66),
            (0.93,-0.42),(2.5,-0.45),(2.64,-0.35)]
ngc_2264 = [(4.67,0.0),(4.63,-0.1),(4.6,0.05),(4.57,-0.21),(4.53,-0.14),(4.49,-0.24),(4.46,-0.17),(4.43,-0.07),
            (4.39,-0.31),(4.34,-0.21),(4.31,-0.28),(4.27,-0.16),(4.24,-0.35),(4.2,-0.24),(4.17,-0.38),(4.14,-0.49),
            (4.1,-0.31),(4.06,-0.59),(4.03,-0.42),(4.0,-0.69),(3.96,-0.24),(3.91,-0.52),(3.89,-0.35),(3.81,-0.45),
            (3.74,-0.59),(3.67,-0.49),(3.6,-0.35),(3.53,-0.62),(3.46,-0.42),(3.39,-0.24),(4.71,-0.17),(4.53,-0.31),
            (4.39,-0.14),(4.24,-0.21),(4.1,-0.17),(3.96,-0.45),(3.81,-0.62),(4.34,-0.38),(4.17,-0.31),(4.6,-0.31),
            (2.96,-0.24),(2.81,-0.17),(2.67,-0.24),(2.63,-0.14),(2.6,0.03),(2.57,-0.38),(2.46,-0.24),(2.43,-0.14),
            (2.1,0.02),(1.71,-0.38),(1.6,-0.07)]
ngc_2353 = [(4.71,0.03),(4.67,-0.07),(4.49,0.07),(4.43,-0.24),(4.31,-0.17),(4.24,-0.38),(4.2,0.02),(3.96,-0.08),
            (3.89,-0.53),(3.03,0.31),(2.96,-0.31),(2.89,-0.1),(2.81,0.0),(2.74,-0.17),(2.67,-0.24),(2.63,-0.38),
            (2.57,-0.17),(2.49,-0.03),(2.43,-0.31),(2.34,-0.14),(2.29,-0.56),(2.2,-0.31),(2.1,-0.38),(2.03,-0.1),
            (1.91,-0.24),(1.77,-0.31),(1.67,-0.14),(1.6,-0.17),(1.46,-0.24),(1.34,-0.9),(1.31,0.03),(1.17,-0.45),
            (1.1,-0.59),(1.03,0.12),(0.96,-0.66),(0.91,-0.73),(0.81,-0.52),(0.71,-0.66),(2.71,-0.42),(3.17,-0.28)]
ngc_2447 = [(4.61,0.1),(4.58,0.0),(4.53,-0.1),(4.49,-0.24),(4.0,-0.16),(3.27,0.28),(3.42,-0.35),(3.34,-0.21),
            (3.13,-0.1),(3.02,0.1),(2.95,0.03),(2.9,-0.56),(2.87,-0.03),(2.8,-0.31),(2.73,-0.17),(2.7,-0.38),
            (2.66,-0.1),(2.62,-0.31),(2.59,-0.42),(2.56,0.0),(2.51,-0.24),(2.47,-0.49),(2.44,-0.31),(2.41,-0.03),
            (2.37,-0.38),(2.33,-0.78),(2.3,-0.17),(2.27,-0.56),(2.23,-0.35),(2.19,0.17),(2.15,-0.45),(2.08,0.28),
            (2.04,-0.24),(2.01,-0.52),(1.94,-0.31),(1.87,-0.17),(1.8,-0.42),(1.72,-0.24),(1.68,-0.73),(1.61,-0.31),
            (1.51,-0.45),(1.4,-0.73),(1.37,-0.73),(1.23,-0.52),(1.08,-0.42),(1.01,-0.45),(0.98,-0.59),(2.73,-0.38),
            (2.62,-0.21)]
ngc_2632 = [(4.85,0.25),(4.85,0.05),(4.85,-0.15),(4.85,-0.35),(4.85,-0.5),(4.8,0.35),(4.8,0.15),(4.8,-0.05),
            (4.8,-0.25),(4.8,-0.45),(4.75,0.2),(4.75,0.0),(4.75,-0.2),(4.75,-0.4),(4.75,-0.55),(4.7,0.3),(4.7,0.1),
            (4.7,-0.1),(4.7,-0.3),(4.7,-0.5),(4.65,0.25),(4.65,0.05),(4.65,-0.15),(4.65,-0.35),(4.6,0.4),
            (4.6,0.15),(4.6,-0.05),(4.6,-0.25),(4.6,-0.45),(4.55,0.3),(4.55,0.1),(4.55,-0.1),(4.55,-0.3),
            (4.55,-0.55),(4.5,0.2),(4.5,0.0),(4.5,-0.2),(4.5,-0.4),(4.45,0.35),(4.45,0.1),(4.45,-0.15),
            (4.45,-0.35),(4.45,-0.5),(4.4,0.25),(4.4,0.05),(4.4,-0.1),(4.4,-0.3),(4.35,0.3),(4.35,0.0),
            (4.35,-0.2),(4.35,-0.45),(4.3,0.2),(4.3,-0.05),(4.3,-0.25),(4.3,-0.5),(4.25,0.3),(4.25,0.1),
            (4.25,-0.15),(4.25,-0.35),(4.2,0.15),(4.2,-0.05),(4.2,-0.3),(4.2,-0.55),(4.1,0.25),(4.1,-0.1),
            (4.1,-0.4),(4.0,0.3),(4.0,0.05),(4.0,-0.25),(4.0,-0.5),(3.9,0.15),(3.9,-0.15),(3.9,-0.45),(3.8,0.3),
            (3.8,0.0),(3.8,-0.3),(3.7,0.2),(3.7,-0.1),(3.7,-0.4),(3.7,-0.6),(3.6,0.3),(3.6,0.05),(3.6,-0.2),
            (3.5,0.15),(3.5,-0.1),(3.5,-0.35),(3.5,-0.55),(3.4,0.25),(3.4,0.0),(3.4,-0.3),(3.3,0.35),(3.3,0.1),
            (3.3,-0.2),(3.3,-0.45),(3.2,0.2),(3.2,-0.05),(3.2,-0.35),(3.1,0.25),(3.1,0.0),(3.1,-0.25),(3.1,-0.5),
            (3.0,0.15),(3.0,-0.15),(3.0,-0.4),(2.9,0.25),(2.9,0.05),(2.9,-0.3),(2.9,-0.55),(2.8,0.2),(2.8,-0.1),
            (2.8,-0.35),(2.7,0.25),(2.7,0.0),(2.7,-0.25),(2.7,-0.5),(2.6,0.15),(2.6,-0.2),(2.6,-0.45),(2.6,-0.6),
            (2.5,0.2),(2.5,-0.05),(2.5,-0.3),(2.5,-0.55),(2.4,0.1),(2.4,-0.2),(2.4,-0.45),(2.3,0.15),(2.3,-0.1),
            (2.3,-0.4),(2.2,0.05),(2.2,-0.25),(2.1,0.2),(2.1,-0.3),
            (1.75,-0.16),(1.59,-0.31),(1.15,-0.13),(1.06,-0.56),(0.88,-1.02),(0.64,-0.79),(0.11,-0.69),
            (1.53,-0.74),(1.75,-0.77),(1.86,-0.66),(2.08,-0.88),(2.19,-1.24),(2.19,-1.41),(2.13,-1.77),
            (2.63,-1.51),(2.91,-1.74),(1.75,-1.09),(1.26,-1.38),(1.26,-1.56),(0.92,-1.27),(0.64,-1.41),
            (0.64,-1.74),(4.2,-1.16),(4.31,-1.71),(4.53,-0.99),(4.7,-0.95),(3.05,-1.13),(3.27,-0.84),(3.6,-0.81),
            (3.92,-0.74),(4.25,-0.74),(4.42,-0.84),(3.71,-0.95),(2.74,-0.81),(2.52,-0.99),(2.41,-0.88),
            (1.7,-0.41),(1.48,-0.59),(1.31,-0.81)]
ngc_2682 = [(4.85,0.05),(4.8,-0.05),(4.75,0.1),(4.7,0.0),(4.65,-0.08),(4.6,0.05),(4.55,-0.02),(4.5,0.08),
            (4.45,-0.05),(4.4,0.02),(4.35,0.1),(4.3,-0.08),(4.25,0.0),(4.2,0.06),(4.15,-0.04),(4.1,0.03),
            (4.05,-0.1),(4.0,0.05),(3.95,-0.02),(3.9,0.08),(3.85,0.0),(3.8,-0.06),(3.75,0.04),(3.7,-0.02),
            (3.65,0.06),(3.6,0.0),(3.55,-0.05),(3.5,0.03),(3.45,-0.02),(3.4,0.05),(3.35,-0.06),(3.3,0.0),
            (3.25,0.04),(3.2,-0.03),(3.15,0.02),(3.1,-0.05),(3.05,0.05),(3.0,-0.02),(2.95,0.0),(2.9,-0.05),
            (2.85,0.03),(2.8,-0.08),(2.75,0.0),(2.7,-0.03),(2.65,-0.1),(2.6,0.0),(2.55,-0.05),(2.5,-0.02),
            (4.8,0.2),(4.6,0.25),(4.3,0.2),(4.0,0.15),(3.7,0.12),(3.4,0.15),(3.1,0.12),(4.8,-0.2),(4.75,-0.3),
            (4.8,-0.4),(4.75,-0.5),(4.8,-0.6),(4.7,-0.7),(4.75,-0.8),(4.7,-0.25),(4.75,-0.15),(4.8,-0.35),
            (4.5,-0.2),(4.4,-0.35),(4.3,-0.5),(4.2,-0.25),(4.1,-0.6),(4.0,-0.4),(3.9,-0.55),(3.8,-0.3),
            (3.7,-0.45),(3.6,-0.6),(3.5,-0.35),(3.4,-0.5),(3.3,-0.25),(3.2,-0.45),(3.1,-0.55),(3.0,-0.4),
            (2.9,-0.3),(2.8,-0.5),(2.7,-0.4),(2.6,-0.3),(2.5,-0.35),(2.45,-0.45),(2.4,-0.25),(2.35,-0.55),
            (4.6,-0.55),(4.2,-0.7),(2.3,0.0),(2.2,-0.1),(2.1,-0.05),(1.99,0.21),(1.96,-0.07),(1.82,-0.1),
            (1.7,-0.08),(1.46,-0.07),(2.39,-0.8),(2.31,-0.72),(4.77,-0.99),(3.2,-0.95),(3.21,-0.87),(2.46,-1.42),
            (2.39,-1.49),(1.67,-1.24),(4.78,0.0),(4.72,0.05),(4.62,-0.03),(4.48,0.0),(4.38,-0.03),(4.22,-0.02),
            (4.08,0.0),(3.92,0.02),(3.78,0.02),(3.62,-0.03),(3.48,0.0),(3.32,0.03),(3.18,0.0),(3.02,0.02),
            (2.88,-0.02),(2.72,0.03),(2.58,-0.08),(2.52,-0.12)]
ngc_6383 = [(3.79,-0.19),(3.26,-0.15),(3.17,0.13),(2.86,0.24),(2.79,0.15),(2.83,0.29),(2.4,0.43),(2.36,0.35),
            (1.93,0.35),(1.64,0.38),(1.36,0.31),(1.29,0.21),(1.14,0.28),(1.07,0.45),(1.03,0.24),(1.0,0.31),
            (0.97,0.17),(0.93,0.35),(0.89,0.28),(0.86,0.42),(0.83,0.21),(0.79,0.31),(0.74,0.24),(0.71,0.33),
            (0.69,0.14),(0.64,0.28),(0.6,0.21),(0.57,0.31),(0.53,0.24),(0.5,0.14),(0.46,0.29),(0.43,0.07),
            (0.93,-0.21),(1.03,-0.17),(0.83,-0.38),(0.79,-0.56),(0.74,-0.47),(0.71,-0.66),(0.69,-0.73),
            (0.79,-0.75),(0.74,-0.85),(0.71,-0.94),(0.83,-0.83),(0.43,-0.94),(0.21,-0.31),(0.14,-0.4),(0.31,0.01),
            (0.21,0.03),(0.07,0.0),(1.14,0.14),(0.71,-0.21)]
ngc_6791 = [(4.67,-0.14),(4.63,-0.03),(4.6,0.14),(4.57,-0.19),(4.31,-0.24),(4.14,-0.52),(4.14,-0.76),(3.74,0.0),
            (3.67,-0.05),(3.53,-0.4),(3.31,-0.06),(3.31,0.35),(3.14,0.15),(3.03,-0.31),(3.0,-0.07),(2.96,0.07),
            (2.89,-0.21),(2.86,-0.53),(2.81,-0.1),(2.77,-0.4),(2.74,-0.69),(2.71,-0.17),(2.67,-0.35),(2.63,0.07),
            (2.6,-0.53),(2.57,-0.77),(2.53,-0.49),(2.49,-0.24),(2.46,-0.53),(2.43,-0.07),(2.39,-0.38),(2.34,-0.17),
            (2.31,-0.66),(2.24,-0.28),(2.2,-0.49),(2.1,-0.24),(2.03,-0.4),(1.96,-0.33),(1.89,0.03),(1.81,-0.38),
            (1.71,-0.88),(1.6,-0.24),(1.53,-0.38),(1.46,-0.42),(1.39,-0.42),(1.24,-0.49),(1.1,-0.52),(0.81,0.24),
            (0.74,0.03),(0.67,-0.21),(0.49,0.14),(2.6,0.14),(2.89,0.33),(2.81,0.29),(2.77,0.36),(2.74,0.31),
            (2.7,0.26),(2.67,0.35),(2.63,0.3),(2.6,0.37),(2.57,0.28),(2.53,0.33),(2.49,0.36),(2.46,0.29),
            (2.43,0.33),(2.39,0.26),(2.34,0.36),(2.31,0.31),(2.29,0.35),(2.24,0.28),(2.17,0.31),(1.89,0.29),
            (1.74,0.31),(1.6,0.29),(1.46,0.29),(1.31,0.28),(0.89,0.24),(3.06,0.28),(2.96,0.31)]
ngc_6811 = [(4.85,0.1),(4.85,-0.2),(4.8,0.3),(4.8,0.0),(4.8,-0.35),(4.75,0.15),(4.75,-0.1),(4.7,0.4),(4.7,0.05),
            (4.7,-0.25),(4.65,0.2),(4.65,-0.05),(4.65,-0.45),(4.6,0.1),(4.6,-0.15),(4.55,0.3),(4.55,-0.3),
            (4.5,0.0),(4.5,0.2),(4.45,-0.2),(4.45,0.1),(4.4,0.35),(4.4,-0.1),(4.35,-0.35),(4.3,0.05),(4.3,0.25),
            (4.25,-0.15),(4.2,0.1),(4.85,-0.4),(4.6,0.35),(4.1,-0.05),(4.0,0.2),(3.95,-0.3),(3.9,0.05),
            (3.8,-0.15),(3.75,0.3),(3.7,-0.4),(3.6,0.1),(3.55,-0.2),(3.5,0.0),(3.4,-0.5),(3.35,0.15),(3.3,-0.1),
            (3.2,-0.3),(3.15,0.05),(3.05,-0.55),(2.9,0.2),(2.85,-0.1),(2.8,0.3),(2.8,-0.3),(2.75,0.05),
            (2.7,-0.45),(2.7,0.15),(2.65,-0.2),(2.6,0.35),(2.6,0.0),(2.55,-0.35),(2.55,0.2),(2.5,-0.1),
            (2.5,-0.55),(2.45,0.1),(2.45,-0.25),(2.4,0.3),(2.4,-0.4),(2.35,-0.05),(2.35,-0.6),(2.3,0.15),
            (2.3,-0.3),(2.25,-0.15),(2.5,0.25),(2.65,-0.6),(2.4,-0.75),(2.2,-0.4),(2.1,0.1),(2.05,-0.25),
            (2.0,-0.55),(1.9,0.2),(1.85,-0.35),(1.8,-0.8),(1.7,-0.15),(1.6,-0.5),(1.5,0.1),(1.45,-0.3),(1.4,-0.6),
            (1.3,-0.45),(1.2,-0.2),(1.1,-0.4),(1.0,-0.3),(0.75,-0.55),(0.5,-0.6),(0.1,-0.65),(1.6,0.2),(1.3,0.15),
            (0.9,-0.93),(1.75,-0.85),(4.75,0.0),(4.7,-0.1),(4.6,0.0),(4.55,-0.1),(4.5,0.1),(4.4,0.0),
            (2.6,-0.2),(2.5,-0.3),(2.45,-0.45),(2.55,0.05)]
ngc_6819 = [(4.67,-0.49),(4.63,-0.17),(4.6,-0.1),(4.49,0.36),(4.34,0.14),(4.13,0.01),(3.38,-0.1),(3.34,0.31),
            (3.13,0.38),(3.02,0.14),(2.99,-0.07),(2.95,0.03),(2.9,-0.03),(2.87,0.21),(2.85,-0.14),(2.8,0.1),
            (2.76,0.28),(2.73,0.0),(2.7,-0.21),(2.66,0.17),(2.62,-0.07),(2.59,0.07),(2.56,-0.45),(2.51,-0.1),
            (2.47,0.31),(2.44,-0.24),(2.41,0.14),(2.37,-0.42),(2.33,-0.03),(2.3,-0.21),(2.23,0.03),(2.13,0.07),
            (2.04,-0.31),(1.94,-0.21),(1.87,0.07),(1.8,-0.52),(1.72,0.0),(1.61,-0.03),(1.55,-0.07),(1.51,-0.42),
            (1.44,-0.49),(1.34,0.29),(1.29,-0.57),(1.22,-0.38),(1.15,-0.45),(1.08,-0.1),(1.01,-0.07),(0.93,-0.49),
            (0.86,-0.42),(0.79,-0.54),(0.64,-0.66),(2.73,-0.1),(2.87,-0.21)]
ngc_6866 = [(4.64,-0.45),(4.6,-0.56),(4.54,-0.31),(4.5,-0.07),(4.43,-0.14),(4.36,0.0),(4.29,0.1),(4.26,-0.14),
            (4.21,0.47),(4.17,-0.07),(4.11,-0.03),(4.07,0.24),(4.0,-0.1),(3.93,0.14),(3.86,0.0),(3.74,-0.29),
            (3.69,0.1),(3.57,0.07),(3.5,-0.26),(3.43,-0.03),(3.31,-0.07),(3.26,0.17),(3.14,0.14),(3.07,-0.03),
            (3.0,0.03),(2.93,-0.49),(2.89,-0.07),(2.83,-0.21),(2.79,0.21),(2.74,0.1),(2.71,0.24),(2.69,0.17),
            (2.64,0.07),(2.6,-0.12),(2.57,-0.17),(2.54,-0.38),(2.5,0.24),(2.46,0.07),(2.43,-0.26),(2.4,-0.03),
            (2.36,-0.56),(2.31,0.28),(2.29,-0.14),(2.21,-0.31),(2.14,-0.17),(2.0,-0.1),(1.89,0.06),(1.79,-0.24),
            (1.71,-0.07),(1.5,-0.03),(1.4,-0.42),(1.29,-0.17),(1.21,-0.56),(1.14,-0.38),(1.07,-0.49),(1.03,0.0),
            (0.97,-0.1),(0.93,-0.31),(0.79,-0.21),(0.71,-0.47)]
ngc_752 = [(4.8,0.2),(4.8,0.05),(4.8,-0.1),(4.8,-0.25),(4.8,-0.4),(4.75,0.15),(4.75,-0.05),(4.75,-0.2),
           (4.75,-0.35),(4.75,-0.5),(4.7,0.25),(4.7,0.1),(4.7,0.0),(4.7,-0.15),(4.7,-0.3),(4.7,-0.45),(4.65,0.2),
           (4.65,0.05),(4.65,-0.1),(4.65,-0.25),(4.6,0.1),(4.6,-0.05),(4.6,-0.2),(4.85,0.0),(4.85,-0.3),
           (4.55,0.15),(4.55,0.0),(4.5,0.05),(4.45,-0.1),(4.4,0.1),(4.35,-0.2),(4.3,0.0),(4.25,-0.3),(4.2,-0.1),
           (4.15,0.05),(4.1,-0.4),(4.05,-0.15),(4.0,0.1),(3.95,-0.3),(3.9,-0.05),(3.85,-0.5),(3.8,0.2),
           (3.75,-0.2),(3.7,0.0),(3.65,-0.35),(3.6,0.3),(3.55,-0.1),(3.5,-0.45),(3.45,0.1),(3.4,-0.25),
           (3.35,-0.6),(3.3,0.05),(3.25,-0.15),(3.2,0.25),(3.15,-0.4),(3.1,-0.05),(3.05,-0.3),(3.0,0.15),
           (2.95,-0.55),(2.9,-0.2),(2.85,0.3),(2.8,-0.1),(2.75,-0.4),(2.7,0.1),(2.65,-0.25),(2.6,-0.6),
           (2.55,0.35),(2.5,0.0),(2.5,-0.3),(2.45,0.2),(2.45,-0.5),(2.4,-0.15),(2.35,0.1),(2.35,-0.4),(2.3,-0.25),
           (2.25,-0.65),(2.2,0.0),(2.15,-0.35),(2.1,-0.5),(2.05,0.15),(2.0,-0.25),(1.95,-0.7),(1.9,-0.4),
           (1.85,0.0),(1.8,-0.55),(1.75,-0.3),(1.7,0.15),(1.65,-0.45),(1.6,-0.75),(1.55,-0.2),(1.5,-0.55),
           (1.45,-0.35),(1.4,-0.8),(1.35,-0.5),(1.3,-0.65),(1.2,-0.45),(1.1,-0.7),(1.0,-0.55),(0.9,-0.3),
           (0.85,-0.75),(2.6,0.2),(2.5,-0.1),(2.4,0.3),(3.3,0.35),(3.1,0.2),(2.8,-0.75),(3.9,-0.65),(4.2,0.25),
           (4.06,-0.82),(3.17,-0.99),(2.29,-1.3),(1.67,-1.44),(1.39,-1.63),(1.2,-1.4),(1.17,-1.18),(1.24,-0.94),
           (1.6,-1.28),(4.8,0.1),(4.8,-0.15),(4.75,0.05),(4.75,-0.1),(4.7,0.05),(4.7,-0.2),(4.75,-0.25),
           (4.8,-0.3),(4.7,-0.4),(4.65,0.0),(4.65,-0.15),(4.75,-0.45),(4.8,-0.5),(4.7,0.15),(4.75,0.25),
           (2.6,-0.15),(2.55,-0.35),(2.5,-0.2),(2.45,-0.3),(2.4,-0.45),(2.35,-0.3),(2.3,-0.4),(2.5,0.1),
           (2.45,0.25),(2.2,-0.45)]
ngc_7789 = [(4.64,0.05),(4.6,-0.19),(4.46,0.17),(4.26,-0.09),(4.11,0.03),(4.0,-0.07),(3.93,-0.31),(3.86,-0.16),
            (3.79,-0.26),(3.74,-0.42),(3.69,-0.24),(3.64,0.21),(3.6,-0.17),(3.57,-0.07),(3.54,-0.1),(3.5,0.0),
            (3.46,-0.03),(3.43,0.07),(3.4,-0.14),(3.36,0.35),(3.31,-0.03),(3.29,0.38),(3.26,-0.17),(3.21,-0.1),
            (3.17,-0.31),(3.14,-0.21),(3.07,-0.07),(3.0,-0.17),(2.93,-0.28),(2.86,0.0),(2.83,0.03),(2.79,-0.1),
            (2.74,-0.03),(2.71,-0.24),(2.64,0.19),(2.6,-0.33),(2.57,-0.45),(2.54,-0.59),(2.5,-0.31),(2.46,-0.1),
            (2.43,-0.52),(2.4,-0.38),(2.36,-0.17),(2.31,0.0),(2.29,-0.07),(2.21,0.14),(2.17,-0.1),(2.14,-0.38),
            (2.11,-0.03),(2.07,-0.45),(2.03,-0.07),(2.0,-0.1),(1.93,0.0),(1.89,-0.63),(1.86,-0.1),(1.79,-1.72),
            (1.71,-0.31),(1.57,-0.45),(1.29,-0.1),(1.26,-0.52),(1.14,-0.52),(2.5,0.03),(2.64,-0.03)]
ruprecht_18 = [(4.6,-0.49),(4.1,-0.12),(3.74,-0.16),(3.6,-0.31),(3.29,0.0),(2.96,0.05),(2.89,-0.21),(2.81,-0.66),
               (2.74,-0.07),(2.67,-0.14),(2.63,-0.38),(2.6,-0.24),(2.57,-0.45),(2.53,-0.31),(2.49,-0.49),(2.43,0.35),
               (2.39,-0.24),(2.34,-0.38),(2.31,-0.1),(2.24,-0.52),(2.17,-0.1),(2.1,-0.31),(2.03,-0.21),(1.96,-0.38),
               (1.89,-0.59),(1.81,-0.14),(1.77,-0.1),(1.67,-0.49),(1.6,-0.24),(1.56,0.0),(1.49,-0.17),(1.44,-0.69),
               (1.39,-0.24),(1.24,-0.56),(1.03,-0.59),(0.91,-0.73),(0.96,-1.06),(0.81,-0.45),(2.6,-0.17)]
ruprecht_134 = [(4.1,-0.19),(3.49,-0.22),(2.96,0.24),(2.89,0.31),(2.81,0.14),(2.6,0.3),(2.53,-0.73),(2.34,-0.69),
                (2.31,-0.94),(2.24,-0.97),(2.2,0.28),(2.17,0.28),(2.1,-0.94),(2.03,-1.25),(1.96,0.17),(1.89,0.38),
                (1.87,-0.97),(1.83,-0.73),(1.79,-0.52),(1.69,0.24),(1.59,-0.81),(1.47,0.31),(1.4,-1.08),(1.3,-0.76),
                (1.26,0.24),(1.19,-0.58),(1.12,-0.94),(1.04,0.38),(0.97,0.17),(0.83,-1.3),(0.61,0.21),(0.54,-0.1),
                (0.44,-0.14),(0.26,-0.87),(0.19,-0.97),(2.39,-1.39),(2.24,-1.53),(2.27,-1.67),(2.67,0.31)]
ruprecht_147 = [(4.7,0.1),(4.65,0.0),(4.65,0.15),(4.6,-0.1),(4.6,0.05),(4.55,0.2),(4.55,-0.05),(4.5,0.1),
                (4.5,-0.15),(4.45,0.05),(4.4,0.15),(4.4,-0.05),(4.35,0.1),(4.3,0.0),(4.25,0.12),(4.2,0.05),
                (4.15,0.15),(4.1,0.08),(4.05,0.0),(4.0,0.12),(3.95,0.05),(4.6,-0.2),(4.65,-0.25),(4.45,-0.15),
                (4.3,0.25),(4.2,0.35),(4.05,-0.2),(4.55,0.3),(4.35,0.4),(4.6,-0.38),(4.24,-0.45),(3.9,-0.2),
                (3.7,0.1),(3.6,-0.15),(3.5,-0.3),(3.4,0.0),(3.35,-0.55),(3.3,-0.2),(3.25,-0.75),(3.2,0.05),
                (3.1,-0.35),(3.05,-0.15),(3.0,0.2),(2.95,-0.5),(2.9,-0.25),(2.85,-0.05),(2.8,0.25),(2.8,-0.4),
                (2.75,-0.6),(2.7,-0.3),(2.7,0.15),(2.65,-0.1),(2.6,-0.45),(2.55,0.3),(2.55,-0.25),(2.5,-0.35),
                (2.5,-0.7),(2.45,-0.15),(2.4,0.0),(2.4,-0.5),(2.35,-0.3),(2.3,-0.8),(2.25,0.2),(2.2,-0.45),
                (2.15,-0.25),(2.1,-0.6),(2.0,-0.35),(1.95,0.05),(1.9,-0.55),(1.85,-0.75),(1.8,-0.3),(1.7,-0.45),
                (1.65,-0.2),(1.6,-0.65),(1.5,-0.5),(1.45,-0.8),(1.4,-0.35),(1.35,0.2),(1.3,-0.6),(1.2,-0.45),
                (1.15,-0.75),(1.1,-0.9),(1.0,-0.6),(0.9,-0.45),(0.8,-0.7),(0.7,-0.55),(0.5,-0.65),(2.6,-0.2),
                (2.3,-0.35),(2.15,-1.13),(1.94,-1.11),(1.87,-1.09),(1.76,-1.32),(1.27,-1.32),(4.62,0.08),
                (4.52,0.02),(4.42,0.1),(4.32,0.06),(4.22,0.12),(4.12,0.02),(4.02,0.08)]
sigma_orionis = [(4.57,-0.38),(4.54,0.02),(4.43,0.26),(4.29,0.28),(4.4,-0.14),(4.33,-0.24),(4.26,-0.17),
                 (4.19,-0.31),(4.14,-0.1),(4.11,-0.21),(4.09,-0.03),(4.04,-0.28),(4.0,-0.17),(3.97,-0.35),
                 (3.94,-0.24),(3.9,-0.14),(3.86,-0.21),(3.83,0.07),(4.09,-0.35),(4.19,-0.14),(3.79,-0.74),
                 (3.54,-0.3),(3.37,-0.09),(3.29,-0.17),(3.14,-0.1),(3.01,-0.03),(3.0,-0.58),(2.9,-0.73),(2.69,-0.31),
                 (2.4,-0.44),(2.36,0.21),(2.23,-0.23),(2.19,-0.49),(1.07,-0.21),(0.5,-0.97)]
trumpler_20 = [(3.56,0.03),(2.92,0.29),(2.89,0.09),(2.82,-0.16),(2.77,0.23),(2.71,0.0),(2.67,-0.1),(2.63,0.17),
               (2.6,-0.17),(2.57,0.07),(2.53,0.21),(2.49,-0.03),(2.46,-0.12),(2.43,0.14),(2.39,0.03),(2.34,-0.17),
               (2.31,0.23),(2.29,0.1),(2.24,-0.07),(2.2,0.21),(2.14,0.05),(2.1,0.16),(2.03,-0.1),(1.96,-0.21),
               (1.91,0.26),(1.88,0.07),(1.81,0.21),(1.77,0.17),(1.67,-0.35),(1.6,0.03),(1.57,-0.49),(1.49,0.14),
               (1.34,-0.59),(1.19,0.28),(1.16,-0.07),(1.09,0.17),(1.02,-0.39),(0.91,-0.45),(0.85,-0.5),(0.3,0.09),
               (0.23,-0.3)]

stars = [ascc_11, ascc_16, ascc_19, ascc_20, ascc_21, berkeley_85,
         bh_56, bh_131, briceno_1, collinder_34, collinder_69, collinder_70,
         eso_518_03, ic_348, kharchenko_1, melotte_20, melotte_22, ngc_1647,
         ngc_1817, ngc_1857, ngc_188, ngc_1912, ngc_1980, ngc_2158,
         ngc_2204, ngc_2264, ngc_2353, ngc_2447, ngc_2632, ngc_2682,
         ngc_6383, ngc_6791, ngc_6811, ngc_6819, ngc_6866, ngc_752,
         ngc_7789, ruprecht_18, ruprecht_134, ruprecht_147, sigma_orionis, trumpler_20]

# giant-branch fit: start and end of each line
fit_x0 = [3.0, 3.0, 3.0, 3.0, 3.0, 3.0, 3.0, 3.0, 3.0, 3.0, 3.0, 3.0,
          3.0, 2.96, 2.96, 3.0, 3.0, 3.0, 3.0, 3.0, 3.0, 3.0, 3.0, 3.0,
          3.0, 3.0, 3.0, 3.0, 3.0, 3.0, 2.93, 3.0, 3.0, 3.0, 3.0, 3.0,
          3.0, 3.0, 2.99, 2.97, 2.96, 2.96]
fit_y0 = [-0.12, -0.07, -0.1, -0.1, -0.12, 0.09, -0.27, 0.15, -0.1, -0.1, -0.1, -0.17,
          -0.18, -0.13, -0.2, -0.12, -0.09, -0.13, -0.19, -0.2, -0.03, -0.13, -0.45, -0.22,
          -0.22, -0.17, -0.16, -0.1, -0.17, -0.09, 0.36, 0.19, 0.05, 0.12, 0.07, -0.08,
          0.0, -0.12, -0.47, -0.05, -0.17, 0.14]
fit_x1 = [-0.05, 0.8, 0.55, 1.37, 1.15, 0.28, 0.8, 0.68, 1.2, 0.07, 0.63, 0.59,
          0.36, 0.58, 1.01, -0.07, -0.03, 1.42, 1.26, 1.2, 0.71, 0.69, 0.91, 0.87,
          0.43, 1.53, 0.67, 0.89, 0.11, 1.43, 0.0, 0.49, -0.07, 0.64, 0.64, 0.86,
          0.69, 0.57, 0.03, 0.36, 0.46, 0.19]
fit_y1 = [-0.72, -0.77, -0.77, -0.93, -0.7, -0.14, -0.43, -0.17, -0.72, -0.56, -0.71, -0.57,
          -0.86, -0.46, -0.33, -0.58, -0.8, -0.28, -0.66, -0.44, -0.78, -0.49, -0.47, -0.35,
          -0.59, -0.15, -0.45, -0.58, -1.08, -0.49, -0.08, -0.12, -0.55, -0.4, -0.36, -0.69,
          -0.53, -0.56, -0.38, -0.74, -0.6, -0.21]

# stars with large uncertainties: (log g, [Fe/H], err log g, err [Fe/H])
uncertain = {
    "Collinder 34": [(4.75, -1.59, 0.2, 0.0)],
    "Melotte 22": [(4.7, -0.15, 0.2, 0.0), (4.7, 0.05, 0.15, 0.0), (4.3, -1.62, 0.0, 0.2)],
    "NGC 1647": [(4.5, 0.25, 0.2, 0.0), (4.3, -0.45, 0.3, 0.0)],
    "NGC 1817": [(4.3, -0.33, 0.7, 0.0), (4.3, -0.69, 0.3, 0.0), (3.75, -1.22, 0.2, 0.12),
                 (3.55, -0.56, 0.5, 0.0), (4.3, 0.47, 0.35, 0.0), (3.7, -1.0, 0.0, 0.1), (3.9, -1.4, 0.15, 0.0)],
    "NGC 2632": [(3.35, -0.97, 0.85, 0.0), (2.6, -1.52, 0.65, 0.0), (2.8, -1.71, 1.55, 0.0),
                 (2.85, -1.64, 0.0, 0.13), (4.75, -0.38, 0.15, 0.0)],
    "NGC 2682": [(4.7, -0.95, 0.2, 0.0), (4.6, -0.8, 0.15, 0.0)],
    "Ruprecht 134": [(2.75, -0.72, 0.45, 0.0), (2.2, -0.96, 0.45, 0.0), (2.2, -1.5, 0.35, 0.0),
                     (2.34, -0.9, 0.0, 0.1), (2.3, -0.2, 0.0, 0.1)],
}

sns.set_style("ticks")
plt.rcParams["font.family"] = ["Liberation Serif", "DejaVu Serif"]
plt.rcParams["axes.unicode_minus"] = True

fig, axes = plt.subplots(7, 6, figsize=(13.77, 13.77), dpi=100)
fig.subplots_adjust(left=0.0545, right=0.981, top=0.9695, bottom=0.053, wspace=0.436, hspace=0.745)

outline = [pe.Stroke(linewidth=3.8, foreground="white"), pe.Normal()]

for i, ax in enumerate(axes.flat):
    name = clusters[i]
    df = pd.DataFrame(stars[i], columns=["logg", "feh"])

    if name in uncertain:
        e = pd.DataFrame(uncertain[name], columns=["logg", "feh", "elogg", "efeh"])
        ax.errorbar(e["logg"], e["feh"], xerr=e["elogg"], yerr=e["efeh"], fmt="none",
                    ecolor="0.87", elinewidth=1.2, zorder=1)

    sns.scatterplot(data=df, x="logg", y="feh", ax=ax, s=4.5, color="0.4",
                    edgecolor="k", linewidth=0.5, zorder=2, legend=False)

    fit = pd.DataFrame({"logg": [fit_x0[i], fit_x1[i]], "feh": [fit_y0[i], fit_y1[i]]})
    sns.lineplot(data=fit, x="logg", y="feh", ax=ax, color="#ff7f0e", linewidth=2.2,
                 path_effects=outline, zorder=3)

    ax.set_xlim(4.97, -0.04)
    ax.set_ylim(-1.82, 0.5)
    ax.set_xticks([2.5, 0.0])
    ax.set_xticklabels(["2.5", "0.0"])
    ax.set_yticks([0, -1])
    ax.set_yticklabels(["0", "\u22121"])
    ax.tick_params(direction="in", top=True, right=True, length=5, width=1.2,
                   labelsize=16.5, pad=5, colors="black")
    for sp in ax.spines.values():
        sp.set_linewidth(1.2)
        sp.set_color("0.2")
    ax.set_title(name, fontsize=16.5, pad=8)
    ax.set_xlabel("log (g)" if i >= 36 else "", fontsize=16.5)
    ax.set_ylabel("[Fe/H]" if i % 6 == 0 else "", fontsize=16.5)

fig.savefig("out.png", dpi=100)
